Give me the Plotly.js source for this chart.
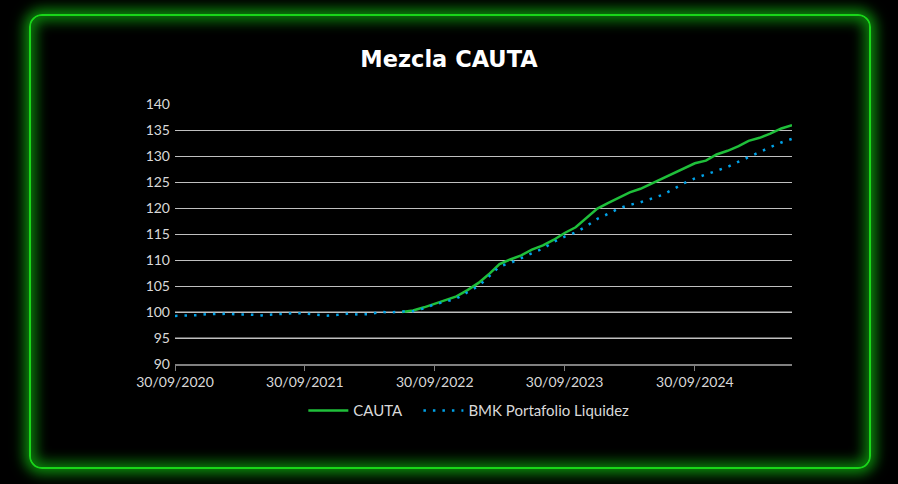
<!DOCTYPE html>
<html>
<head>
<meta charset="utf-8">
<script src="https://cdn.plot.ly/plotly-3.0.1.min.js"></script>
<style>
  html, body { margin:0; padding:0; background:#000; width:898px; height:484px; overflow:hidden; }
  #frame { position:absolute; left:29px; top:14px; width:838px; height:451px;
           border:2px solid #19d619; border-radius:13px;
           box-shadow: 0 0 13px 5px rgba(20,230,20,0.6), inset 0 0 13px 5px rgba(20,230,20,0.55);
           pointer-events:none; z-index:2; }
  #chart { position:absolute; left:0; top:0; width:898px; height:484px; z-index:1; }
</style>
</head>
<body>
<div id="chart"></div>
<div id="frame"></div>
<script>
// Monthly dates (month end)
const dates = [
  "2020-09-30","2020-10-31","2020-11-30","2020-12-31",
  "2021-01-31","2021-02-28","2021-03-31","2021-04-30","2021-05-31","2021-06-30",
  "2021-07-31","2021-08-31","2021-09-30","2021-10-31","2021-11-30","2021-12-31",
  "2022-01-31","2022-02-28","2022-03-31","2022-04-30","2022-05-31","2022-06-30",
  "2022-07-31","2022-08-31","2022-09-30","2022-10-31","2022-11-30","2022-12-31",
  "2023-01-31","2023-02-28","2023-03-31","2023-04-30","2023-05-31","2023-06-30",
  "2023-07-31","2023-08-31","2023-09-30","2023-10-31","2023-11-30","2023-12-31",
  "2024-01-31","2024-02-29","2024-03-31","2024-04-30","2024-05-31","2024-06-30",
  "2024-07-31","2024-08-31","2024-09-30","2024-10-31","2024-11-30","2024-12-31",
  "2025-01-31","2025-02-28","2025-03-31","2025-04-30","2025-05-31","2025-06-30"
];

// BMK Portafolio Liquidez (full period)
const bmkValues = [
  99.25, 99.3, 99.4, 99.6,
  99.7, 99.65, 99.5, 99.5, 99.35, 99.5,
  99.7, 99.8, 99.7, 99.55, 99.3, 99.45,
  99.7, 99.5, 99.6, 100.0, 99.95, 100.1,
  100.15, 100.7, 101.5, 102.0, 102.6, 103.8,
  105.0, 106.7, 108.8, 109.4, 110.4, 111.3,
  112.2, 113.5, 114.5, 115.3, 116.5, 117.9,
  118.9, 119.9, 120.6, 121.1, 121.8, 122.5,
  123.6, 124.8, 125.7, 126.4, 127.1, 127.9,
  128.9, 129.8, 130.8, 131.7, 132.6, 133.3
];

// CAUTA starts 2022-06-30
const cautaDates = dates.slice(21);
const cautaValues = [
  100.0,
  100.3, 100.9, 101.6, 102.35, 103.0, 104.2,
  105.6, 107.2, 109.2, 110.1, 110.9, 112.0,
  112.8, 113.9, 115.2, 116.3, 118.0, 119.9,
  121.0, 122.0, 123.0, 123.7, 124.7, 125.6,
  126.6, 127.7, 128.6, 129.1, 130.3, 131.0,
  131.9, 132.9, 133.5, 134.3, 135.3, 135.9
];

const xTickVals = ["2020-09-30","2021-09-30","2022-09-30","2023-09-30","2024-09-30"];
const xTickText = ["30/09/2020","30/09/2021","30/09/2022","30/09/2023","30/09/2024"];
const yTickVals = [90,95,100,105,110,115,120,125,130,135,140];
const darkGridLevels = [95,100];

const traces = [
  { x: cautaDates, y: cautaValues, name: "CAUTA", type: "scatter", mode: "lines",
    line: { color: "#1fbf3a", width: 2.5 }, legend: "legend" },
  { x: dates, y: bmkValues, name: "BMK Portafolio Liquidez", type: "scatter", mode: "lines",
    line: { color: "#00a2e8", width: 2.5, dash: "2.5px,7px" }, legend: "legend2" }
];

const legendBase = { orientation: "h", xanchor: "left", y: -0.18, yanchor: "middle",
  font: { family: "Lato, sans-serif", size: 15, color: "#d9d9d9" },
  bgcolor: "rgba(0,0,0,0)", itemwidth: 40 };

const layout = {
  width: 898, height: 484,
  paper_bgcolor: "#000", plot_bgcolor: "#000",
  margin: { l: 175, r: 106, t: 104, b: 120 },
  font: { family: "Lato, sans-serif", color: "#d9d9d9", size: 14 },
  title: { text: "<b>Mezcla CAUTA</b>", x: 0.5, xanchor: "center", y: 0.878, yanchor: "middle",
           font: { family: "'DejaVu Sans', sans-serif", size: 22.5, color: "#ffffff" } },
  showlegend: true,
  legend: Object.assign({}, legendBase, { x: 0.208 }),
  legend2: Object.assign({}, legendBase, { x: 0.3945 }),
  xaxis: { type: "date", range: ["2020-09-30","2025-06-30"],
           tickmode: "array", tickvals: xTickVals, ticktext: xTickText,
           showgrid: false, zeroline: false,
           showline: true, linecolor: "#808080", linewidth: 1.5,
           ticks: "outside", ticklen: 5, tickcolor: "#808080", tickwidth: 1,
           tickfont: { size: 14, color: "#d9d9d9" } },
  yaxis: { range: [90,140], tickmode: "array", tickvals: yTickVals,
           showgrid: true, gridcolor: "#bfbfbf", gridwidth: 1,
           zeroline: false, showline: false, ticks: "",
           ticklabelstandoff: 4,
           tickfont: { size: 14, color: "#d9d9d9" } },
  shapes: darkGridLevels.map(v => ({ type: "line", xref: "paper", x0: 0, x1: 1, yref: "y", y0: v, y1: v,
           line: { color: "#808080", width: 1.5 }, layer: "between" }))
};

Plotly.newPlot("chart", traces, layout, { displayModeBar: false, staticPlot: true });
</script>
</body>
</html>
